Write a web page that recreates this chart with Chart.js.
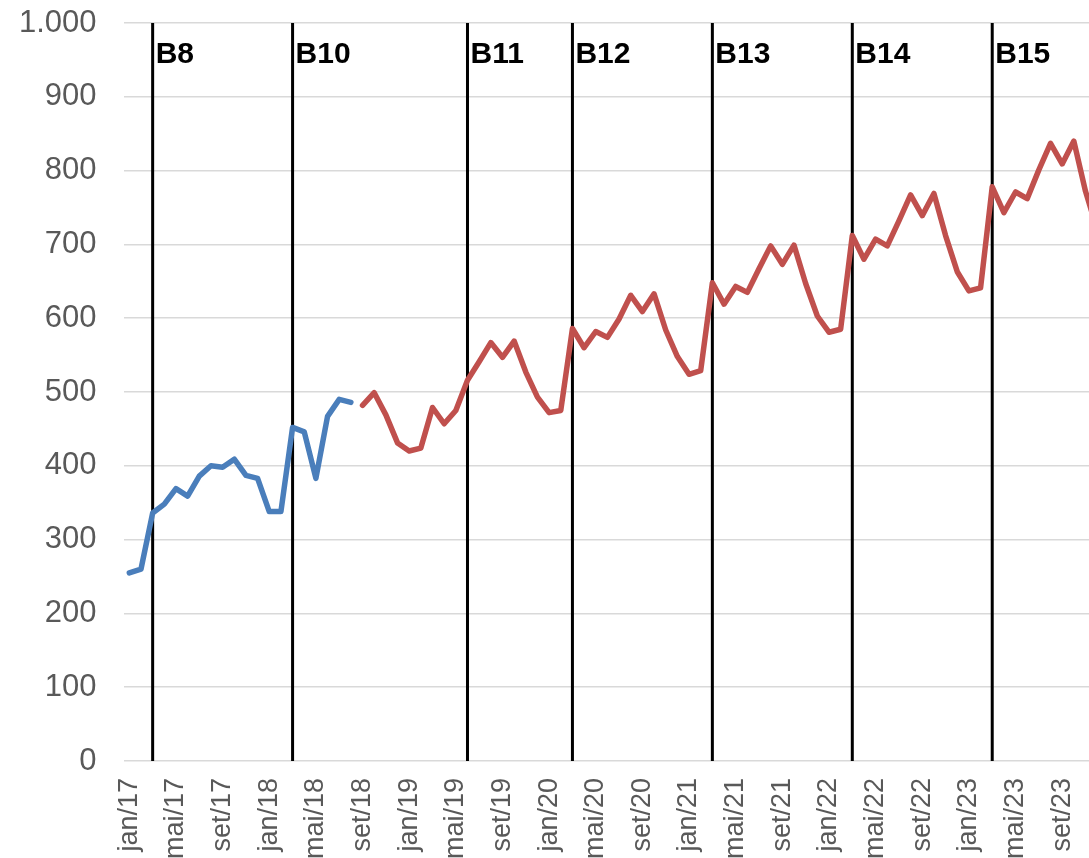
<!DOCTYPE html>
<html>
<head>
<meta charset="utf-8">
<script src="https://cdn.jsdelivr.net/npm/chart.js@4.4.1/dist/chart.umd.min.js"></script>
<style>
  html, body { margin: 0; padding: 0; overflow: hidden; background: #fff; }
  #wrap { width: 1103px; height: 858px; }
</style>
</head>
<body>
<div id="wrap"><canvas id="chart" width="1103" height="858"></canvas></div>
<script>
// Month names and years used to build the monthly categories (jan/17 .. dez/23).
const monthNames = [ 'jan', 'fev', 'mar', 'abr', 'mai', 'jun', 'jul', 'ago', 'set', 'out', 'nov', 'dez' ];
const years = [ '17', '18', '19', '20', '21', '22', '23' ];

// First series (blue), jan/17 .. ago/18.
const blueValues = [ 255, 260, 336, 348, 369, 359, 386, 400, 398, 409, 387, 383,
                     338, 338, 452, 446, 383, 467, 490, 486 ];

// Second series (red), set/18 .. dez/23.
const redValues = [ 482, 499, 469, 431,
                    420, 424, 479, 457, 475, 516, 541, 567, 547, 569, 527, 493,
                    472, 475, 586, 560, 582, 574, 599, 631, 609, 633, 584, 548,
                    524, 529, 648, 619, 643, 635, 667, 698, 673, 699, 647, 603,
                    581, 585, 712, 680, 707, 698, 732, 767, 739, 769, 712, 663,
                    637, 641, 778, 743, 771, 762, 801, 837, 809, 840, 772, 720 ];

// Vertical marker lines: month where each one sits and its label.
const eventMonths = [ 'mar/17', 'mar/18', 'jun/19', 'mar/20', 'mar/21', 'mar/22', 'mar/23' ];
const eventNames = [ 'B8', 'B10', 'B11', 'B12', 'B13', 'B14', 'B15' ];

// Y axis ticks.
const yMin = 0;
const yMax = 1000;
const yStep = 100;

// Build the category labels.
const categories = [];
years.forEach( function( y ) {
    monthNames.forEach( function( m ) {
        categories.push( m + '/' + y );
    });
});

// Pad the series with nulls so both cover every month.
const blueData = blueValues.concat( new Array( categories.length - blueValues.length ).fill( null ) );
const redData = new Array( categories.length - redValues.length ).fill( null ).concat( redValues );

/**
 * Formats a number with a dot as thousands separator (1.000).
 * @param {number} v The value.
 */
function formatThousands( v ) {
    return String( v ).replace( /\B(?=(\d{3})+(?!\d))/g, '.' );
}

// Draws the black vertical lines and their bold labels, under the data lines.
const eventLinesPlugin = {
    id: 'eventLines',
    beforeDatasetsDraw: function( chart ) {
        const ctx = chart.ctx;
        const area = chart.chartArea;
        const xScale = chart.scales.x;
        ctx.save();
        eventMonths.forEach( function( month, i ) {
            const x = xScale.getPixelForValue( categories.indexOf( month ) );
            ctx.beginPath();
            ctx.strokeStyle = '#000000';
            ctx.lineWidth = 3;
            ctx.moveTo( x, area.top );
            ctx.lineTo( x, area.bottom );
            ctx.stroke();
            ctx.fillStyle = '#000000';
            ctx.font = 'bold 30px "Liberation Sans", Arial, sans-serif';
            ctx.textAlign = 'left';
            ctx.textBaseline = 'alphabetic';
            ctx.fillText( eventNames[ i ], x + 3, area.top + 40 );
        });
        ctx.restore();
    }
};

new Chart( document.getElementById( 'chart' ), {
    type: 'line',
    data: {
        labels: categories,
        datasets: [{
            data: blueData,
            borderColor: '#4a7ebb',
            borderWidth: 5.5,
            pointRadius: 0,
            borderCapStyle: 'round',
            borderJoinStyle: 'round',
            tension: 0,
            spanGaps: false
        }, {
            data: redData,
            borderColor: '#c0504d',
            borderWidth: 5.5,
            pointRadius: 0,
            borderCapStyle: 'round',
            borderJoinStyle: 'round',
            tension: 0,
            spanGaps: false
        }]
    },
    options: {
        responsive: false,
        animation: false,
        layout: {
            padding: { left: 0, right: 0, top: 23, bottom: 0 }
        },
        plugins: {
            legend: { display: false },
            tooltip: { enabled: false }
        },
        scales: {
            x: {
                type: 'category',
                offset: true,
                grid: { display: false, drawTicks: false },
                border: { display: false },
                ticks: {
                    autoSkip: false,
                    maxRotation: 90,
                    minRotation: 90,
                    padding: 17,
                    color: '#595959',
                    font: { family: '"Liberation Sans", Arial, sans-serif', size: 27 },
                    callback: function( value, index ) {
                        return index % 4 === 0 ? categories[ index ] : null;
                    }
                },
                afterFit: function( scale ) {
                    scale.height = 97;
                    scale.paddingLeft = 0;
                    scale.paddingRight = 0;
                }
            },
            y: {
                min: yMin,
                max: yMax,
                grid: { color: '#d9d9d9', lineWidth: 1.5, drawTicks: false },
                border: { display: false },
                ticks: {
                    stepSize: yStep,
                    padding: 27,
                    color: '#595959',
                    font: { family: '"Liberation Sans", Arial, sans-serif', size: 31 },
                    callback: function( value ) {
                        return formatThousands( value );
                    }
                },
                afterFit: function( scale ) {
                    scale.width = 123.5;
                    scale.paddingTop = 0;
                    scale.paddingBottom = 0;
                }
            }
        }
    },
    plugins: [ eventLinesPlugin ]
});
</script>
</body>
</html>
